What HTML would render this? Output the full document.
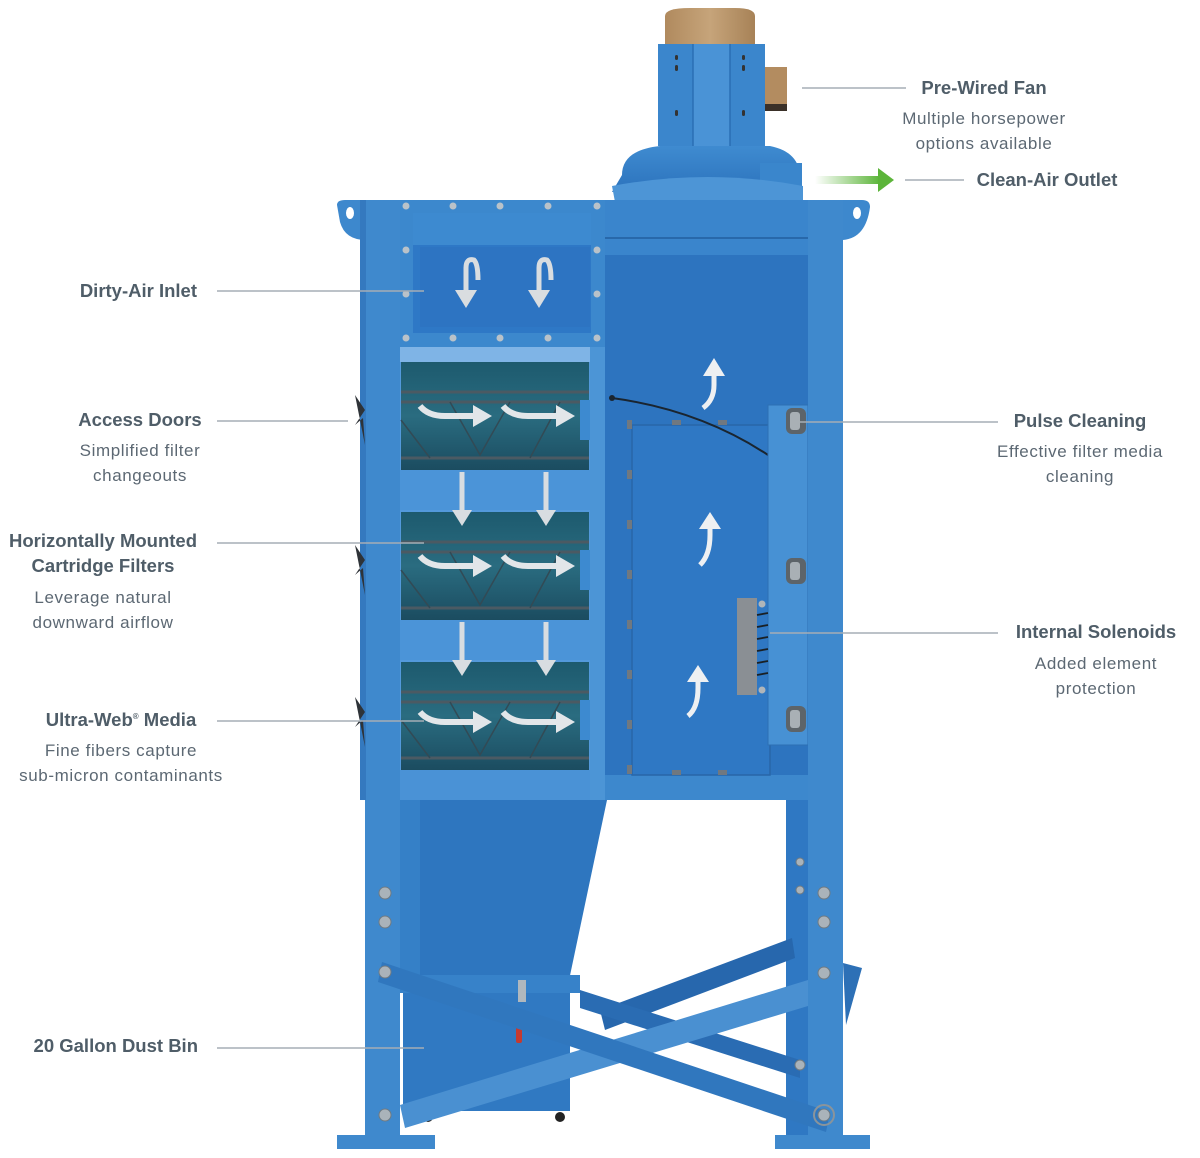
<!DOCTYPE html>
<html><head><meta charset="utf-8"><style>
html,body{margin:0;padding:0;background:#fff;width:1200px;height:1158px;overflow:hidden}
svg{display:block}
.t{font-family:"Liberation Sans",sans-serif;font-weight:bold;font-size:18.5px;fill:#4f5d68}
.d{font-family:"Liberation Sans",sans-serif;font-size:17px;fill:#5c6873;letter-spacing:0.6px}
.l{stroke:#a6aeb5;stroke-width:1.6}
</style></head><body>
<svg width="1200" height="1158" viewBox="0 0 1200 1158" xmlns="http://www.w3.org/2000/svg">
<defs>
<linearGradient id="g1" x1="0" x2="1"><stop offset="0" stop-color="#fff"/><stop offset="1" stop-color="#5cb53a"/></linearGradient>
<linearGradient id="tan" x1="0" x2="1"><stop offset="0" stop-color="#b08a5e"/><stop offset=".5" stop-color="#c6a47a"/><stop offset="1" stop-color="#a78257"/></linearGradient>
<linearGradient id="flt" x1="0" y1="0" x2="0" y2="1"><stop offset="0" stop-color="#1d5a6e"/><stop offset=".5" stop-color="#2a6c80"/><stop offset="1" stop-color="#1b4c60"/></linearGradient>
<linearGradient id="dome" x1="0" y1="0" x2="0" y2="1"><stop offset="0" stop-color="#3f8bd0"/><stop offset="1" stop-color="#2c73bd"/></linearGradient>
</defs>

<path d="M665 16 Q665 8 690 8 L735 8 Q755 8 755 16 L755 46 L665 46 Z" fill="url(#tan)"/>
<rect x="763" y="67" width="24" height="44" fill="#b38c60"/>
<rect x="763" y="104" width="24" height="7" fill="#3a3028"/>
<rect x="658" y="44" width="107" height="102" fill="#3b86cc"/>
<rect x="693" y="44" width="37" height="102" fill="#4a93d6"/>
<line x1="693" y1="44" x2="693" y2="146" stroke="#2b6fb5" stroke-width="1.5"/>
<line x1="730" y1="44" x2="730" y2="146" stroke="#2b6fb5" stroke-width="1.5"/>
<g fill="#333"><rect x="675" y="55" width="3" height="5" rx="1.5"/><rect x="675" y="65" width="3" height="6" rx="1.5"/><rect x="675" y="110" width="3" height="6" rx="1.5"/><rect x="742" y="55" width="3" height="5" rx="1.5"/><rect x="742" y="65" width="3" height="6" rx="1.5"/><rect x="742" y="110" width="3" height="6" rx="1.5"/></g>
<path d="M622 175 Q622 150 660 146 L770 146 Q800 152 800 178 L803 192 L612 192 Z" fill="url(#dome)"/>
<rect x="760" y="163" width="42" height="30" fill="#3a86cc"/>
<path d="M612 186 Q708 168 803 186 L803 202 L615 202 Z" fill="#4d95d6"/>
<rect x="815" y="176" width="65" height="8" fill="url(#g1)"/>
<polygon points="878,168 894,180 878,192" fill="#5cb53a"/>

<path d="M337 205 Q337 200 345 200 L366 200 L366 240 Q345 240 340 222 Z" fill="#3d88cd"/>
<ellipse cx="350" cy="213" rx="4" ry="6" fill="#fff"/>
<path d="M843 200 L862 200 Q870 200 870 207 Q866 238 843 240 Z" fill="#3d88cd"/>
<ellipse cx="857" cy="213" rx="4" ry="6" fill="#fff"/>

<rect x="365" y="200" width="478" height="600" fill="#3a86cc"/>
<rect x="365" y="200" width="35" height="940" fill="#3f89cd"/>
<rect x="360" y="200" width="6" height="600" fill="#3479bf"/>
<rect x="400" y="200" width="205" height="147" fill="#3c88cd"/>
<rect x="413" y="213" width="178" height="120" fill="#2e78c6"/>
<rect x="413" y="213" width="178" height="32" fill="#3d8ad0"/>
<rect x="420" y="247" width="170" height="80" fill="#2d74c2"/>
<g fill="#b9c2c9"><circle cx="406" cy="206" r="3.5"/><circle cx="453" cy="206" r="3.5"/><circle cx="500" cy="206" r="3.5"/><circle cx="548" cy="206" r="3.5"/><circle cx="597" cy="206" r="3.5"/><circle cx="406" cy="250" r="3.5"/><circle cx="597" cy="250" r="3.5"/><circle cx="406" cy="294" r="3.5"/><circle cx="597" cy="294" r="3.5"/><circle cx="406" cy="338" r="3.5"/><circle cx="453" cy="338" r="3.5"/><circle cx="500" cy="338" r="3.5"/><circle cx="548" cy="338" r="3.5"/><circle cx="597" cy="338" r="3.5"/></g>
<g fill="none" stroke="#d9dde0" stroke-width="5"><path d="M466 292 L466 268 Q466 258 474 260 Q478 264 478 280"/><path d="M539 292 L539 268 Q539 258 547 260 Q551 264 551 280"/></g>
<g fill="#d9dde0"><polygon points="455,290 477,290 466,308"/><polygon points="528,290 550,290 539,308"/></g>

<rect x="400" y="347" width="190" height="453" fill="#5399db"/>
<rect x="400" y="347" width="190" height="15" fill="#7fb4e6"/>
<rect x="400" y="470" width="190" height="40" fill="#4b94d8"/>
<rect x="400" y="620" width="190" height="40" fill="#4b94d8"/>
<rect x="400" y="770" width="190" height="30" fill="#4a92d6"/>
<rect x="401" y="362" width="188" height="108" fill="url(#flt)"/>
<rect x="401" y="512" width="188" height="108" fill="url(#flt)"/>
<rect x="401" y="662" width="188" height="108" fill="url(#flt)"/>
<g stroke="#4b5a63" stroke-width="3"><line x1="401" y1="392" x2="589" y2="392"/><line x1="401" y1="402" x2="589" y2="402"/><line x1="401" y1="458" x2="589" y2="458"/><line x1="401" y1="542" x2="589" y2="542"/><line x1="401" y1="552" x2="589" y2="552"/><line x1="401" y1="608" x2="589" y2="608"/><line x1="401" y1="692" x2="589" y2="692"/><line x1="401" y1="702" x2="589" y2="702"/><line x1="401" y1="758" x2="589" y2="758"/></g>
<g stroke="#324a55" stroke-width="1.5" fill="none"><path d="M401 420 L430 458 M450 402 L480 455 L510 402 M530 458 L560 402"/><path d="M401 570 L430 608 M450 552 L480 605 L510 552 M530 608 L560 552"/><path d="M401 720 L430 758 M450 702 L480 755 L510 702 M530 758 L560 702"/></g>
<g fill="#3d8ad0"><rect x="580" y="400" width="10" height="40"/><rect x="580" y="550" width="10" height="40"/><rect x="580" y="700" width="10" height="40"/></g>
<g fill="none" stroke="#e2e6e9" stroke-width="6"><path d="M420 406 Q428 416 445 416 L475 416"/><path d="M503 406 Q511 416 528 416 L558 416"/><path d="M420 556 Q428 566 445 566 L475 566"/><path d="M503 556 Q511 566 528 566 L558 566"/><path d="M420 712 Q428 722 445 722 L475 722"/><path d="M503 712 Q511 722 528 722 L558 722"/></g>
<g fill="#e2e6e9"><polygon points="473,405 492,416 473,427"/><polygon points="556,405 575,416 556,427"/><polygon points="473,555 492,566 473,577"/><polygon points="556,555 575,566 556,577"/><polygon points="473,711 492,722 473,733"/><polygon points="556,711 575,722 556,733"/></g>
<g stroke="#d8dde1" stroke-width="5"><line x1="462" y1="472" x2="462" y2="512"/><line x1="546" y1="472" x2="546" y2="512"/><line x1="462" y1="622" x2="462" y2="662"/><line x1="546" y1="622" x2="546" y2="662"/></g>
<g fill="#d8dde1"><polygon points="452,510 472,510 462,526"/><polygon points="536,510 556,510 546,526"/><polygon points="452,660 472,660 462,676"/><polygon points="536,660 556,660 546,676"/></g>
<g fill="#2e3338"><path d="M355 395 L365 410 L355 425 L363 418 L365 445 L360 420 Z"/><path d="M355 545 L365 560 L355 575 L363 568 L365 595 L360 570 Z"/><path d="M355 697 L365 712 L355 727 L363 720 L365 747 L360 722 Z"/></g>
<rect x="590" y="347" width="15" height="453" fill="#4c95d6"/>
<rect x="605" y="200" width="203" height="600" fill="#2d74bf"/>
<rect x="605" y="200" width="203" height="55" fill="#3a85cc"/>
<line x1="605" y1="238" x2="808" y2="238" stroke="#235f9e" stroke-width="1.5"/>
<rect x="605" y="775" width="203" height="25" fill="#3d88cd"/>
<rect x="632" y="425" width="138" height="350" fill="#2f78c4" stroke="#2866a8" stroke-width="1.5"/>
<path d="M612 398 Q700 410 768 455" fill="none" stroke="#1a2530" stroke-width="2"/>
<circle cx="612" cy="398" r="3" fill="#1a2530"/>
<g fill="#707880"><rect x="627" y="420" width="5" height="9"/><rect x="627" y="470" width="5" height="9"/><rect x="627" y="520" width="5" height="9"/><rect x="627" y="570" width="5" height="9"/><rect x="627" y="620" width="5" height="9"/><rect x="627" y="670" width="5" height="9"/><rect x="627" y="720" width="5" height="9"/><rect x="627" y="765" width="5" height="9"/><rect x="672" y="420" width="9" height="5"/><rect x="718" y="420" width="9" height="5"/><rect x="672" y="770" width="9" height="5"/><rect x="718" y="770" width="9" height="5"/></g>
<g fill="none" stroke="#eef0f2" stroke-width="5"><path d="M703 408 Q714 400 714 385 L714 374"/><path d="M700 565 Q710 555 710 535 L710 527"/><path d="M688 716 Q698 708 698 688 L698 680"/></g>
<g fill="#eef0f2"><polygon points="703,376 725,376 714,358"/><polygon points="699,529 721,529 710,512"/><polygon points="687,682 709,682 698,665"/></g>
<rect x="768" y="405" width="40" height="340" fill="#4791d4" stroke="#2d6fb3" stroke-width="1"/>
<g fill="#5d6469"><rect x="786" y="408" width="20" height="26" rx="6"/><rect x="786" y="558" width="20" height="26" rx="6"/><rect x="786" y="706" width="20" height="26" rx="6"/></g>
<g fill="#a9b0b5"><rect x="790" y="412" width="10" height="18" rx="3"/><rect x="790" y="562" width="10" height="18" rx="3"/><rect x="790" y="710" width="10" height="18" rx="3"/></g>
<rect x="737" y="598" width="20" height="97" fill="#8a8f94"/>
<g fill="#b0b5b9"><circle cx="762" cy="604" r="3.5"/><circle cx="762" cy="690" r="3.5"/></g>
<g stroke="#1a2024" stroke-width="1.8"><line x1="757" y1="615" x2="768" y2="613"/><line x1="757" y1="627" x2="768" y2="625"/><line x1="757" y1="639" x2="768" y2="637"/><line x1="757" y1="651" x2="768" y2="649"/><line x1="757" y1="663" x2="768" y2="661"/><line x1="757" y1="675" x2="768" y2="673"/></g>
<rect x="808" y="200" width="35" height="940" fill="#3f89cd"/>
<rect x="786" y="800" width="22" height="340" fill="#2f78c3"/>

<path d="M400 800 L607 800 L568 985 L400 985 Z" fill="#2e76bf"/>
<path d="M400 800 L420 800 L420 985 L400 985 Z" fill="#3580c7"/>
<rect x="400" y="975" width="180" height="18" fill="#3782c9"/>
<rect x="403" y="993" width="167" height="118" fill="#3079c2"/>
<rect x="516" y="1025" width="6" height="18" rx="2" fill="#c53a30"/>
<rect x="518" y="980" width="8" height="22" fill="#b0b8be"/>
<g fill="#222"><circle cx="428" cy="1117" r="5"/><circle cx="560" cy="1117" r="5"/></g>

<path d="M600 1010 L792 938 L795 958 L605 1030 Z" fill="#2767ad"/>
<path d="M580 990 L800 1060 L800 1078 L580 1008 Z" fill="#2a6cb3"/>
<path d="M400 1105 L808 980 L808 1006 L405 1128 Z" fill="#4a90d1"/>
<path d="M382 962 L830 1112 L826 1132 L378 982 Z" fill="#3077be"/>
<path d="M843 963 L862 968 L846 1025 Z" fill="#2d70b6"/>
<rect x="337" y="1135" width="98" height="14" fill="#3f89cd"/>
<rect x="775" y="1135" width="95" height="14" fill="#3f89cd"/>
<g fill="#aab3ba" stroke="#6f7a82" stroke-width="1"><circle cx="385" cy="893" r="6"/><circle cx="385" cy="922" r="6"/><circle cx="385" cy="972" r="6"/><circle cx="385" cy="1115" r="6"/><circle cx="824" cy="893" r="6"/><circle cx="824" cy="922" r="6"/><circle cx="824" cy="973" r="6"/><circle cx="824" cy="1115" r="6"/><circle cx="800" cy="1065" r="5"/><circle cx="800" cy="862" r="4"/><circle cx="800" cy="890" r="4"/></g>
<circle cx="824" cy="1115" r="10" fill="none" stroke="#8a949b" stroke-width="2"/>

<line class="l" x1="802" y1="88" x2="906" y2="88"/>
<line class="l" x1="905" y1="180" x2="964" y2="180"/>
<line class="l" x1="217" y1="291" x2="424" y2="291"/>
<line class="l" x1="217" y1="421" x2="348" y2="421"/>
<line class="l" x1="217" y1="543" x2="424" y2="543"/>
<line class="l" x1="217" y1="721" x2="424" y2="721"/>
<line class="l" x1="217" y1="1048" x2="424" y2="1048"/>
<line class="l" x1="800" y1="422" x2="998" y2="422"/>
<line class="l" x1="770" y1="633" x2="998" y2="633"/>

<text class="t" x="984" y="94" text-anchor="middle">Pre-Wired Fan</text>
<text class="d" x="984" y="124" text-anchor="middle">Multiple horsepower</text>
<text class="d" x="984" y="149" text-anchor="middle">options available</text>
<text class="t" x="1047" y="186" text-anchor="middle">Clean-Air Outlet</text>
<text class="t" x="197" y="297" text-anchor="end">Dirty-Air Inlet</text>
<text class="t" x="140" y="426" text-anchor="middle">Access Doors</text>
<text class="d" x="140" y="456" text-anchor="middle">Simplified filter</text>
<text class="d" x="140" y="481" text-anchor="middle">changeouts</text>
<text class="t" x="103" y="547" text-anchor="middle">Horizontally Mounted</text>
<text class="t" x="103" y="572" text-anchor="middle">Cartridge Filters</text>
<text class="d" x="103" y="603" text-anchor="middle">Leverage natural</text>
<text class="d" x="103" y="628" text-anchor="middle">downward airflow</text>
<text class="t" x="121" y="726" text-anchor="middle">Ultra-Web<tspan font-size="8" dy="-7">®</tspan><tspan dy="7"> Media</tspan></text>
<text class="d" x="121" y="756" text-anchor="middle">Fine fibers capture</text>
<text class="d" x="121" y="781" text-anchor="middle">sub-micron contaminants</text>
<text class="t" x="198" y="1052" text-anchor="end">20 Gallon Dust Bin</text>
<text class="t" x="1080" y="427" text-anchor="middle">Pulse Cleaning</text>
<text class="d" x="1080" y="457" text-anchor="middle">Effective filter media</text>
<text class="d" x="1080" y="482" text-anchor="middle">cleaning</text>
<text class="t" x="1096" y="638" text-anchor="middle">Internal Solenoids</text>
<text class="d" x="1096" y="669" text-anchor="middle">Added element</text>
<text class="d" x="1096" y="694" text-anchor="middle">protection</text>
</svg>
</body></html>
